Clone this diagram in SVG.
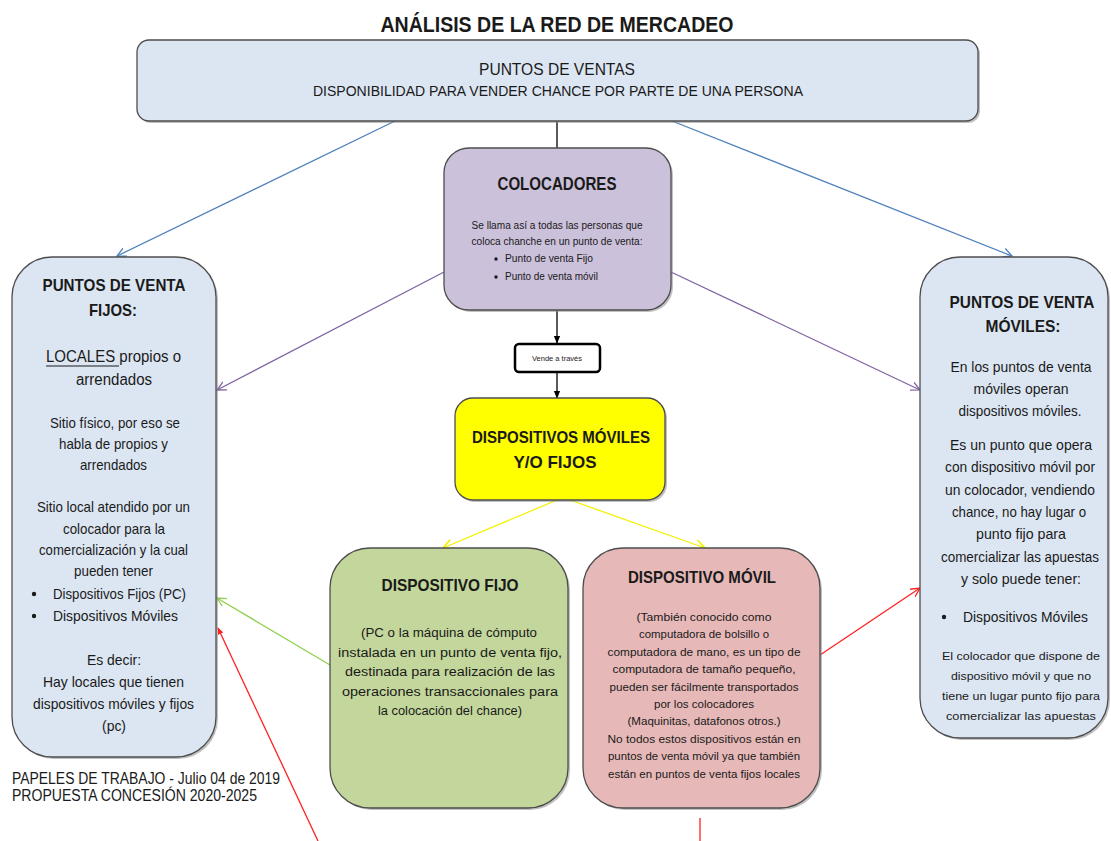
<svg xmlns="http://www.w3.org/2000/svg" width="1111" height="841" viewBox="0 0 1111 841">
<style>
.n{font-family:"Liberation Sans",Arial,sans-serif;fill:#1a1a1a}
.r{font-family:"Liberation Sans",Arial,sans-serif;fill:#1a1a1a}
.b{font-weight:bold}
.box{stroke:#4d4d4d;stroke-width:1.3}
.sh{fill:#8c8c8c;opacity:0.55}
.c{text-anchor:middle}
.ln{fill:none;stroke-width:1.3}
</style>
<defs>
<marker id="mBlue" viewBox="0 0 10 10" refX="9" refY="5" markerWidth="10" markerHeight="10" markerUnits="userSpaceOnUse" orient="auto"><path d="M0,0.5 L9,5 L0,9.5" fill="none" stroke="#4f81bd" stroke-width="1.3"/></marker>
<marker id="mPur" viewBox="0 0 10 10" refX="9" refY="5" markerWidth="10" markerHeight="10" markerUnits="userSpaceOnUse" orient="auto"><path d="M0,0.5 L9,5 L0,9.5" fill="none" stroke="#8064a2" stroke-width="1.3"/></marker>
<marker id="mGrn" viewBox="0 0 10 10" refX="9" refY="5" markerWidth="10" markerHeight="10" markerUnits="userSpaceOnUse" orient="auto"><path d="M0,0.5 L9,5 L0,9.5" fill="none" stroke="#92d050" stroke-width="1.3"/></marker>
<marker id="mRed" viewBox="0 0 10 10" refX="9" refY="5" markerWidth="10" markerHeight="10" markerUnits="userSpaceOnUse" orient="auto"><path d="M0,0.5 L9,5 L0,9.5" fill="none" stroke="#ff2020" stroke-width="1.3"/></marker>
<marker id="mRedF" viewBox="0 0 10 10" refX="9" refY="5" markerWidth="7" markerHeight="7" markerUnits="userSpaceOnUse" orient="auto"><path d="M0,1 L10,5 L0,9 Z" fill="#ff2020"/></marker>
<marker id="mYel" viewBox="0 0 10 10" refX="9" refY="5" markerWidth="11" markerHeight="11" markerUnits="userSpaceOnUse" orient="auto"><path d="M0,0.5 L9,5 L0,9.5" fill="none" stroke="#f2f200" stroke-width="1.5"/></marker>
<marker id="mBlk" viewBox="0 0 10 10" refX="9" refY="5" markerWidth="8" markerHeight="8" markerUnits="userSpaceOnUse" orient="auto"><path d="M0,1 L10,5 L0,9 Z" fill="#000"/></marker>
</defs>
<rect width="1111" height="841" fill="#fff"/>

<text id="title" class="n b c" x="557" y="32" font-size="22" textLength="353" lengthAdjust="spacingAndGlyphs">ANÁLISIS DE LA RED DE MERCADEO</text>

<g id="connectors">
<line class="ln" x1="557" y1="121" x2="557" y2="148" stroke="#000"/>
<line class="ln" x1="395" y1="121" x2="117" y2="256" stroke="#4f81bd" marker-end="url(#mBlue)"/>
<line class="ln" x1="672" y1="121" x2="1012" y2="256" stroke="#4f81bd" marker-end="url(#mBlue)"/>
<line class="ln" x1="444" y1="272" x2="217" y2="390" stroke="#8064a2" marker-end="url(#mPur)"/>
<line class="ln" x1="671" y1="272" x2="920" y2="390" stroke="#8064a2" marker-end="url(#mPur)"/>
<line class="ln" x1="557" y1="310" x2="557" y2="343" stroke="#000" marker-end="url(#mBlk)"/>
<line class="ln" x1="557" y1="373" x2="557" y2="398" stroke="#000" marker-end="url(#mBlk)"/>
<line class="ln" x1="557" y1="500" x2="443" y2="548" stroke="#f2f200" stroke-width="1.5" marker-end="url(#mYel)"/>
<line class="ln" x1="570" y1="500" x2="705" y2="548" stroke="#f2f200" stroke-width="1.5" marker-end="url(#mYel)"/>
<line class="ln" x1="330" y1="665" x2="217" y2="598" stroke="#92d050" marker-end="url(#mGrn)"/>
<line class="ln" x1="820" y1="655" x2="920" y2="588" stroke="#ff2020" marker-end="url(#mRed)"/>
<line class="ln" x1="318" y1="841" x2="218" y2="628" stroke="#ff2020" marker-end="url(#mRedF)"/>
<line class="ln" x1="700" y1="818" x2="700" y2="841" stroke="#ff2020"/>
</g>

<g id="puntos-ventas">
<rect class="sh" x="139" y="42" width="841" height="81" rx="12"/>
<rect class="box" x="137" y="40" width="841" height="81" rx="12" fill="#dce6f2"/>
<text class="n c" x="557" y="75" font-size="17" textLength="156" lengthAdjust="spacingAndGlyphs">PUNTOS DE VENTAS</text>
<text class="n c" x="558" y="96" font-size="14.5" textLength="490" lengthAdjust="spacingAndGlyphs">DISPONIBILIDAD PARA VENDER CHANCE POR PARTE DE UNA PERSONA</text>
</g>

<g id="colocadores">
<rect class="sh" x="446" y="150" width="227" height="162" rx="25"/>
<rect class="box" x="444" y="148" width="227" height="162" rx="25" fill="#ccc1da"/>
<text class="n b c" x="557" y="190" font-size="18" textLength="119" lengthAdjust="spacingAndGlyphs">COLOCADORES</text>
<text class="r c" x="557" y="229" font-size="10" textLength="171" lengthAdjust="spacingAndGlyphs">Se llama así a todas las personas que</text>
<text class="r c" x="557" y="245" font-size="10" textLength="171" lengthAdjust="spacingAndGlyphs">coloca chanche en un punto de venta:</text>
<circle cx="496" cy="259" r="1.7" fill="#1a1a1a"/>
<text class="r" x="505" y="262" font-size="10" textLength="88" lengthAdjust="spacingAndGlyphs">Punto de venta Fijo</text>
<circle cx="496" cy="277" r="1.7" fill="#1a1a1a"/>
<text class="r" x="505" y="280" font-size="10" textLength="93" lengthAdjust="spacingAndGlyphs">Punto de venta móvil</text>
</g>

<g id="vende">
<rect x="515" y="344" width="85" height="28" rx="4" fill="#fff" stroke="#000" stroke-width="2.5"/>
<text class="r c" x="557" y="361" font-size="7.5">Vende a través</text>
</g>

<g id="dispositivos">
<rect class="sh" x="457" y="400" width="210" height="102" rx="18"/>
<rect class="box" x="455" y="398" width="210" height="102" rx="18" fill="#ffff00"/>
<text class="n b c" x="561" y="443" font-size="17" textLength="178" lengthAdjust="spacingAndGlyphs">DISPOSITIVOS MÓVILES</text>
<text class="n b c" x="555" y="468" font-size="17" textLength="83" lengthAdjust="spacingAndGlyphs">Y/O FIJOS</text>
</g>

<g id="fijo">
<rect class="sh" x="332" y="550" width="238" height="260" rx="40"/>
<rect class="box" x="330" y="548" width="238" height="260" rx="40" fill="#c3d69b"/>
<text class="n b c" x="450" y="591" font-size="17" textLength="137" lengthAdjust="spacingAndGlyphs">DISPOSITIVO FIJO</text>
<text class="r c" x="449" y="637" font-size="12" textLength="176" lengthAdjust="spacingAndGlyphs">(PC o la máquina de cómputo</text>
<text class="r c" x="450" y="657" font-size="12" textLength="224" lengthAdjust="spacingAndGlyphs">instalada en un punto de venta fijo,</text>
<text class="r c" x="450" y="676" font-size="12" textLength="210" lengthAdjust="spacingAndGlyphs">destinada para realización de las</text>
<text class="r c" x="450" y="696" font-size="12" textLength="216" lengthAdjust="spacingAndGlyphs">operaciones transaccionales para</text>
<text class="r c" x="450" y="715" font-size="12" textLength="144" lengthAdjust="spacingAndGlyphs">la colocación del chance)</text>
</g>

<g id="movil">
<rect class="sh" x="585" y="550" width="237" height="260" rx="40"/>
<rect class="box" x="583" y="548" width="237" height="260" rx="40" fill="#e6b9b8"/>
<text class="n b c" x="702" y="583" font-size="17" textLength="148" lengthAdjust="spacingAndGlyphs">DISPOSITIVO MÓVIL</text>
<text class="r c" x="704" y="621" font-size="11" textLength="135" lengthAdjust="spacingAndGlyphs">(También conocido como</text>
<text class="r c" x="704" y="638" font-size="11" textLength="130" lengthAdjust="spacingAndGlyphs">computadora de bolsillo o</text>
<text class="r c" x="704" y="656" font-size="11" textLength="193" lengthAdjust="spacingAndGlyphs">computadora de mano, es un tipo de</text>
<text class="r c" x="704" y="673" font-size="11" textLength="183" lengthAdjust="spacingAndGlyphs">computadora de tamaño pequeño,</text>
<text class="r c" x="704" y="691" font-size="11" textLength="189" lengthAdjust="spacingAndGlyphs">pueden ser fácilmente transportados</text>
<text class="r c" x="704" y="708" font-size="11" textLength="100" lengthAdjust="spacingAndGlyphs">por los colocadores</text>
<text class="r c" x="704" y="725" font-size="11" textLength="153" lengthAdjust="spacingAndGlyphs">(Maquinitas, datafonos otros.)</text>
<text class="r c" x="704" y="743" font-size="11" textLength="193" lengthAdjust="spacingAndGlyphs">No todos estos dispositivos están en</text>
<text class="r c" x="704" y="760" font-size="11" textLength="192" lengthAdjust="spacingAndGlyphs">puntos de venta móvil ya que también</text>
<text class="r c" x="704" y="778" font-size="11" textLength="192" lengthAdjust="spacingAndGlyphs">están en puntos de venta fijos locales</text>
</g>

<g id="fijos">
<rect class="sh" x="14" y="259" width="204" height="500" rx="40"/>
<rect class="box" x="12" y="257" width="204" height="500" rx="40" fill="#dce6f2"/>
<text class="n b c" x="114" y="291" font-size="17" textLength="143" lengthAdjust="spacingAndGlyphs">PUNTOS DE VENTA</text>
<text class="n b c" x="113" y="316" font-size="17" textLength="48" lengthAdjust="spacingAndGlyphs">FIJOS:</text>
<text class="n c" x="113.5" y="362" font-size="16" textLength="135" lengthAdjust="spacingAndGlyphs">LOCALES propios o</text>
<line x1="46" y1="366" x2="119" y2="366" stroke="#1a1a1a" stroke-width="1.2"/>
<text class="n c" x="114" y="385" font-size="16" textLength="76" lengthAdjust="spacingAndGlyphs">arrendados</text>
<text class="n c" x="115" y="428" font-size="15" textLength="130" lengthAdjust="spacingAndGlyphs">Sitio físico, por eso se</text>
<text class="n c" x="113.5" y="449" font-size="15" textLength="109" lengthAdjust="spacingAndGlyphs">habla de propios y</text>
<text class="n c" x="113.5" y="470" font-size="15" textLength="67" lengthAdjust="spacingAndGlyphs">arrendados</text>
<text class="n c" x="113.5" y="512" font-size="15" textLength="153" lengthAdjust="spacingAndGlyphs">Sitio local atendido por un</text>
<text class="n c" x="114" y="534" font-size="15" textLength="102" lengthAdjust="spacingAndGlyphs">colocador para la</text>
<text class="n c" x="113.5" y="555" font-size="15" textLength="149" lengthAdjust="spacingAndGlyphs">comercialización y la cual</text>
<text class="n c" x="113.5" y="576" font-size="15" textLength="79" lengthAdjust="spacingAndGlyphs">pueden tener</text>
<circle cx="34" cy="594" r="2.2" fill="#1a1a1a"/>
<text class="n" x="53" y="599" font-size="15" textLength="133" lengthAdjust="spacingAndGlyphs">Dispositivos Fijos (PC)</text>
<circle cx="34" cy="616" r="2.2" fill="#1a1a1a"/>
<text class="n" x="53" y="621" font-size="15" textLength="125" lengthAdjust="spacingAndGlyphs">Dispositivos Móviles</text>
<text class="n c" x="114" y="665" font-size="15" textLength="54" lengthAdjust="spacingAndGlyphs">Es decir:</text>
<text class="n c" x="113.5" y="687" font-size="15" textLength="141" lengthAdjust="spacingAndGlyphs">Hay locales que tienen</text>
<text class="n c" x="113.5" y="709" font-size="15" textLength="161" lengthAdjust="spacingAndGlyphs">dispositivos móviles y fijos</text>
<text class="n c" x="114" y="731" font-size="15" textLength="24" lengthAdjust="spacingAndGlyphs">(pc)</text>
</g>

<g id="moviles">
<rect class="sh" x="922" y="259" width="188" height="481" rx="40"/>
<rect class="box" x="920" y="257" width="188" height="481" rx="40" fill="#dce6f2"/>
<text class="n b c" x="1022" y="308" font-size="17" textLength="145" lengthAdjust="spacingAndGlyphs">PUNTOS DE VENTA</text>
<text class="n b c" x="1023" y="332" font-size="17" textLength="75" lengthAdjust="spacingAndGlyphs">MÓVILES:</text>
<text class="n c" x="1021" y="372" font-size="15" textLength="141" lengthAdjust="spacingAndGlyphs">En los puntos de venta</text>
<text class="n c" x="1021" y="394" font-size="15" textLength="95" lengthAdjust="spacingAndGlyphs">móviles operan</text>
<text class="n c" x="1020" y="416" font-size="15" textLength="123" lengthAdjust="spacingAndGlyphs">dispositivos móviles.</text>
<text class="n c" x="1021" y="450" font-size="15" textLength="142" lengthAdjust="spacingAndGlyphs">Es un punto que opera</text>
<text class="n c" x="1020" y="472" font-size="14" textLength="150" lengthAdjust="spacingAndGlyphs">con dispositivo móvil por</text>
<text class="n c" x="1020" y="495" font-size="14.5" textLength="150" lengthAdjust="spacingAndGlyphs">un colocador, vendiendo</text>
<text class="n c" x="1019" y="517" font-size="15" textLength="134" lengthAdjust="spacingAndGlyphs">chance, no hay lugar o</text>
<text class="n c" x="1021" y="539" font-size="15" textLength="90" lengthAdjust="spacingAndGlyphs">punto fijo para</text>
<text class="n c" x="1020" y="562" font-size="14" textLength="158" lengthAdjust="spacingAndGlyphs">comercializar las apuestas</text>
<text class="n c" x="1021" y="584" font-size="15" textLength="120" lengthAdjust="spacingAndGlyphs">y solo puede tener:</text>
<circle cx="944" cy="617" r="2.2" fill="#1a1a1a"/>
<text class="n" x="963" y="622" font-size="15" textLength="125" lengthAdjust="spacingAndGlyphs">Dispositivos Móviles</text>
<text class="r c" x="1021" y="660" font-size="11.5" textLength="158" lengthAdjust="spacingAndGlyphs">El colocador que dispone de</text>
<text class="r c" x="1021" y="680" font-size="11.5" textLength="140" lengthAdjust="spacingAndGlyphs">dispositivo móvil y que no</text>
<text class="r c" x="1021" y="700" font-size="11.5" textLength="158" lengthAdjust="spacingAndGlyphs">tiene un lugar punto fijo para</text>
<text class="r c" x="1021" y="720" font-size="11.5" textLength="150" lengthAdjust="spacingAndGlyphs">comercializar las apuestas</text>
</g>

<g id="footer">
<text class="n" x="12" y="784" font-size="16" textLength="268" lengthAdjust="spacingAndGlyphs">PAPELES DE TRABAJO - Julio 04 de 2019</text>
<text class="n" x="12" y="801" font-size="16" textLength="245" lengthAdjust="spacingAndGlyphs">PROPUESTA CONCESIÓN 2020-2025</text>
</g>
</svg>
